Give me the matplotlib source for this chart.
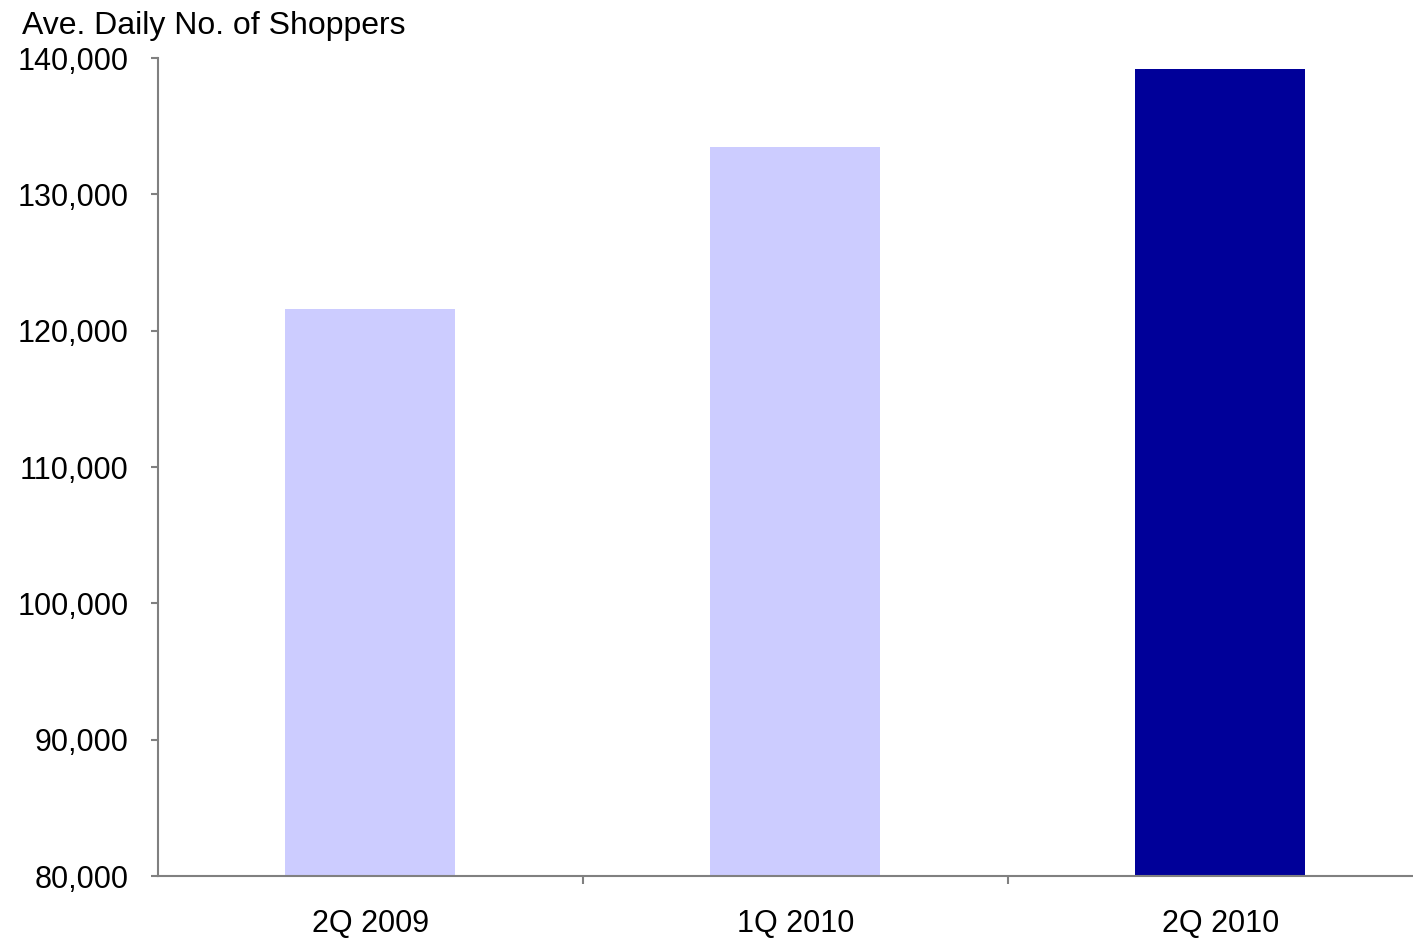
import matplotlib
matplotlib.use("Agg")
import matplotlib.pyplot as plt
from matplotlib.ticker import FuncFormatter

categories = ["2Q 2009", "1Q 2010", "2Q 2010"]
shoppers = [121600, 133500, 139200]
bar_colors = ["#ccccff", "#ccccff", "#000099"]
y_ticks = [80000, 90000, 100000, 110000, 120000, 130000, 140000]

plt.rcParams["font.family"] = ["Liberation Sans", "DejaVu Sans"]

W, H = 1413, 939
fig = plt.figure(figsize=(W / 100, H / 100), dpi=100)
ax = fig.add_axes([158 / W, 63 / H, 1 - 158 / W, (876 - 58) / H])

x = list(range(len(categories)))
ax.bar(x, shoppers, width=0.4, color=bar_colors, zorder=2)

ax.set_ylim(80000, 140000)
ax.set_xlim(-0.5, 2.453)
ax.set_yticks(y_ticks)
ax.yaxis.set_major_formatter(FuncFormatter(lambda v, p: f"{int(v):,}"))
ax.set_xticks([0.5, 1.5])
ax.set_xticklabels([])
ax.set_xticks(x, minor=True)
ax.set_xticklabels(categories, minor=True)

for s in ("top", "right"):
    ax.spines[s].set_visible(False)
for s in ("left", "bottom"):
    ax.spines[s].set_color("#808080")
    ax.spines[s].set_linewidth(1.5)

ax.tick_params(axis="y", which="major", direction="out", length=5, width=1.5,
               color="#808080", labelsize=22, pad=16)
ax.tick_params(axis="x", which="major", direction="out", length=6, width=1.5,
               color="#808080")
ax.tick_params(axis="x", which="minor", length=0, labelsize=22, pad=24)

fig.text(22 / W, 1 - 34 / H, "Ave. Daily No. of Shoppers", fontsize=23,
         ha="left", va="baseline")

fig.savefig("out.png", dpi=100)
